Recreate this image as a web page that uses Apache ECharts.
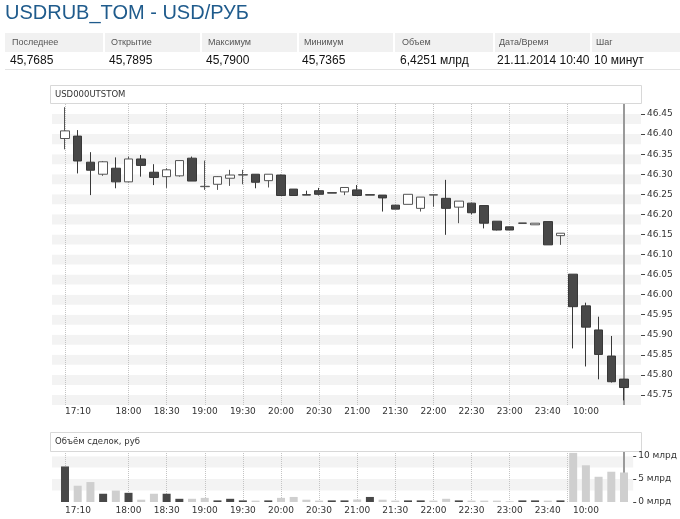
<!DOCTYPE html>
<html><head><meta charset="utf-8">
<script src="https://cdn.jsdelivr.net/npm/echarts@6/dist/echarts.min.js"></script>
<style>html,body{margin:0;padding:0;background:#fff}#c{width:680px;height:519px}</style>
</head><body><div id="c"></div>
<script>
// ---- data ----
const categories = ['17:10','17:20','17:30','17:40','17:50','18:00','18:10','18:20','18:30','18:40','18:50',
  '19:00','19:10','19:20','19:30','19:40','19:50','20:00','20:10','20:20','20:30','20:40','20:50',
  '21:00','21:10','21:20','21:30','21:40','21:50','22:00','22:10','22:20','22:30','22:40','22:50',
  '23:00','23:10','23:20','23:40','23:50','10:00','10:10','10:20','10:30','10:40'];
const tickIndex  = [0, 5, 8, 11, 14, 17, 20, 23, 26, 29, 32, 35, 38, 41];
const tickLabels = ['17:10','18:00','18:30','19:00','19:30','20:00','20:30','21:00','21:30','22:00','22:30','23:00','23:40','10:00'];
const gridLinePos = [0, 5, 8, 11, 14, 17, 20, 23, 26, 29, 32, 35, 39.5];
const cursorPos = 44;

const openV  = [46.389,46.395,46.330,46.300,46.315,46.281,46.338,46.305,46.294,46.296,46.340,46.269,46.275,46.290,46.298,46.300,46.284,46.298,46.263,46.249,46.259,46.254,46.256,46.261,46.249,46.248,46.223,46.225,46.215,46.248,46.240,46.218,46.228,46.222,46.183,46.169,46.1782,46.174,46.182,46.147,46.051,45.972,45.912,45.847,45.7895];
const closeV = [46.408,46.333,46.310,46.331,46.281,46.338,46.322,46.292,46.311,46.334,46.283,46.270,46.294,46.298,46.299,46.280,46.300,46.247,46.247,46.248,46.250,46.253,46.267,46.247,46.248,46.241,46.213,46.250,46.243,46.249,46.215,46.233,46.204,46.178,46.161,46.161,46.1780,46.178,46.124,46.153,45.970,45.919,45.851,45.783,45.7685];
const lowV   = [46.362,46.302,46.248,46.296,46.265,46.280,46.294,46.273,46.266,46.294,46.283,46.261,46.261,46.271,46.275,46.265,46.267,46.247,46.247,46.248,46.247,46.253,46.248,46.247,46.248,46.207,46.213,46.225,46.207,46.219,46.149,46.178,46.200,46.165,46.160,46.161,46.1780,46.174,46.124,46.124,45.866,45.821,45.789,45.781,45.7365];
const highV  = [46.467,46.410,46.355,46.333,46.342,46.344,46.348,46.325,46.315,46.335,46.344,46.334,46.295,46.311,46.311,46.300,46.300,46.299,46.263,46.259,46.266,46.254,46.267,46.273,46.249,46.248,46.223,46.250,46.243,46.249,46.286,46.233,46.229,46.222,46.183,46.169,46.1782,46.178,46.182,46.153,46.051,45.980,45.945,45.897,45.7900];

const volume = [7.75,3.55,4.35,1.8,2.5,2.0,0.5,1.8,1.8,0.7,0.7,0.9,0.35,0.7,0.35,0.3,0.35,0.9,1.1,0.5,0.3,0.35,0.35,0.55,1.1,0.5,0.3,0.35,0.35,0.3,0.7,0.35,0.3,0.3,0.3,0.15,0.35,0.35,0.3,0.35,10.7,8.0,5.5,6.6,6.43];
const volumeDark = [1,0,0,1,0,1,0,0,1,1,0,0,1,1,1,0,1,0,0,0,0,1,1,0,1,0,0,1,1,0,0,1,0,0,0,0,1,1,0,1,0,0,0,0,0];

const priceTicks  = [45.75,45.80,45.85,45.90,45.95,46.00,46.05,46.10,46.15,46.20,46.25,46.30,46.35,46.40,46.45];
const volumeTicks = [0, 5, 10];

const titleText = 'USDRUB_TOM - USD/РУБ';
const statLabels = ['Последнее','Открытие','Максимум','Минимум','Объем','Дата/Время','Шаг'];
const statValues = ['45,7685','45,7895','45,7900','45,7365','6,4251 млрд','21.11.2014 10:40','10 минут'];
const priceTitle = 'USD000UTSTOM';
const volumeTitle = 'Объём сделок, руб';

// ---- layout ----
const FONT = '"DejaVu Sans", Verdana, sans-serif';
const SANS = '"Liberation Sans", Arial, sans-serif';
const statX = [12, 111, 208, 304, 402, 499, 596];
const cellX = [5, 105, 202, 299, 395, 495, 592];
const cellR = [103, 200, 297, 393, 493, 590, 680];

const graphics = [];
graphics.push({type:'text', left:5, top:3, style:{text:titleText, font:'20px ' + SANS, fill:'#1f5b8c'}});
cellX.forEach((x, i) => {
  graphics.push({type:'rect', shape:{x:x, y:33, width:cellR[i]-x, height:19}, style:{fill:'#f1f1f1'}});
});
statLabels.forEach((t, i) => {
  graphics.push({type:'text', x:statX[i], y:43, style:{text:t, font:'9px ' + SANS, fill:'#555', verticalAlign:'middle'}});
});
statValues.forEach((t, i) => {
  graphics.push({type:'text', x:statX[i]-2, y:61, style:{text:t, font:'12px ' + SANS, fill:'#111', verticalAlign:'middle'}});
});
graphics.push({type:'rect', shape:{x:5, y:69, width:675, height:1}, style:{fill:'#e3e3e3'}});
// panel headers
graphics.push({type:'rect', shape:{x:50.5, y:85.5, width:591, height:18}, style:{fill:'#fff', stroke:'#d8d8d8', lineWidth:1}});
graphics.push({type:'text', x:55, y:95, style:{text:priceTitle, font:'8.5px ' + FONT, fill:'#333', verticalAlign:'middle'}});
graphics.push({type:'rect', shape:{x:50.5, y:432.5, width:591, height:19}, style:{fill:'#fff', stroke:'#d8d8d8', lineWidth:1}});
graphics.push({type:'text', x:55, y:442, style:{text:volumeTitle, font:'8.5px ' + FONT, fill:'#333', verticalAlign:'middle'}});

const catLabel = {
  interval: (i) => tickIndex.indexOf(i) >= 0,
  formatter: (v, i) => { const k = tickIndex.indexOf(i); return k >= 0 ? tickLabels[k] : ''; },
  fontSize: 9, fontFamily: FONT, color: '#333', alignMinLabel: 'left'
};

function markLines() {
  return {
    silent: true, symbol: ['none','none'], label: {show:false}, animation:false,
    data: gridLinePos.map(p => ({xAxis: p, lineStyle:{type:'dotted', color:'#c4c4c4', width:1}}))
      .concat([{xAxis: cursorPos, lineStyle:{type:'solid', color:'#9a9a9a', width:2}}])
  };
}

const option = {
  animation: false,
  textStyle: {fontFamily: FONT},
  graphic: graphics,
  grid: [
    {left: 52, right: 39, top: 104, height: 301},
    {left: 58.65, width: 571.7, top: 104, height: 301},
    {left: 52, right: 39, top: 452, height: 50},
    {left: 58.65, width: 571.7, top: 452, height: 50}
  ],
  xAxis: [
    {gridIndex:0, type:'value', min:0, max:1, show:false},
    {gridIndex:1, type:'category', data:categories, boundaryGap:true,
      axisLine:{show:false}, axisTick:{show:false}, splitLine:{show:false},
      axisLabel: Object.assign({margin:2}, catLabel)},
    {gridIndex:1, type:'value', min:-0.5, max:44.5, show:false},
    {gridIndex:2, type:'value', min:0, max:1, show:false},
    {gridIndex:3, type:'category', data:categories, boundaryGap:true,
      axisLine:{show:false}, axisTick:{show:false}, splitLine:{show:false},
      axisLabel: Object.assign({margin:4}, catLabel)},
    {gridIndex:3, type:'value', min:-0.5, max:44.5, show:false}
  ],
  yAxis: [
    // 0: price band axis
    {gridIndex:0, type:'value', position:'right', min:45.725, max:46.475, interval:0.025,
      splitLine:{show:false}, splitArea:{show:true, areaStyle:{color:['#f3f3f3','#ffffff']}},
      axisLine:{show:false, onZero:false}, axisTick:{show:false}, axisLabel:{show:false}},
    // 1: price data axis
    {gridIndex:1, type:'value', min:45.725, max:46.475, show:false},
    // 2: volume band axis
    {gridIndex:2, type:'value', position:'right', min:0, max:10.9, interval:2.5,
      splitLine:{show:false}, splitArea:{show:true, areaStyle:{color:['#ffffff','#f3f3f3']}},
      axisLine:{show:false, onZero:false}, axisTick:{show:false}, axisLabel:{show:false}},
    // 3: volume data axis
    {gridIndex:3, type:'value', min:0, max:10.9, show:false},
    // 4: price label axis
    {gridIndex:0, type:'value', position:'right', min:45.725, max:46.475,
      splitLine:{show:false}, splitArea:{show:false},
      axisLine:{show:false, onZero:false},
      axisTick:{show:true, length:4, customValues: priceTicks, lineStyle:{color:'#444'}},
      axisLabel:{customValues: priceTicks, formatter: v => v.toFixed(2), margin:6, fontSize:9, fontFamily:FONT, color:'#333'}},
    // 5: volume label axis
    {gridIndex:2, type:'value', position:'right', min:0, max:10.9,
      splitLine:{show:false}, splitArea:{show:false},
      axisLine:{show:false, onZero:false},
      axisTick:{show:true, length:3, customValues: volumeTicks, lineStyle:{color:'#444'}},
      axisLabel:{customValues: volumeTicks, formatter: v => v + ' млрд', margin:5, fontSize:9, fontFamily:FONT, color:'#333'}}
  ],
  series: [
    {type:'line', xAxisIndex:2, yAxisIndex:1, data:[], z:1, markLine: markLines()},
    {type:'candlestick', xAxisIndex:1, yAxisIndex:1, z:5, barWidth:9,
      data: openV.map((o, i) => [o, closeV[i], lowV[i], highV[i]]),
      itemStyle:{color:'#ffffff', color0:'#484848', borderColor:'#555555', borderColor0:'#383838', borderWidth:1}},
    {type:'line', xAxisIndex:5, yAxisIndex:3, data:[], z:1, markLine: markLines()},
    {type:'bar', xAxisIndex:4, yAxisIndex:3, z:5, barWidth:8,
      data: volume.map((v, i) => ({value:v, itemStyle:{color: volumeDark[i] ? '#484848' : '#cfcfcf'}}))}
  ]
};

const chart = echarts.init(document.getElementById('c'), null, {renderer:'canvas'});
chart.setOption(option);
</script>
</body></html>
